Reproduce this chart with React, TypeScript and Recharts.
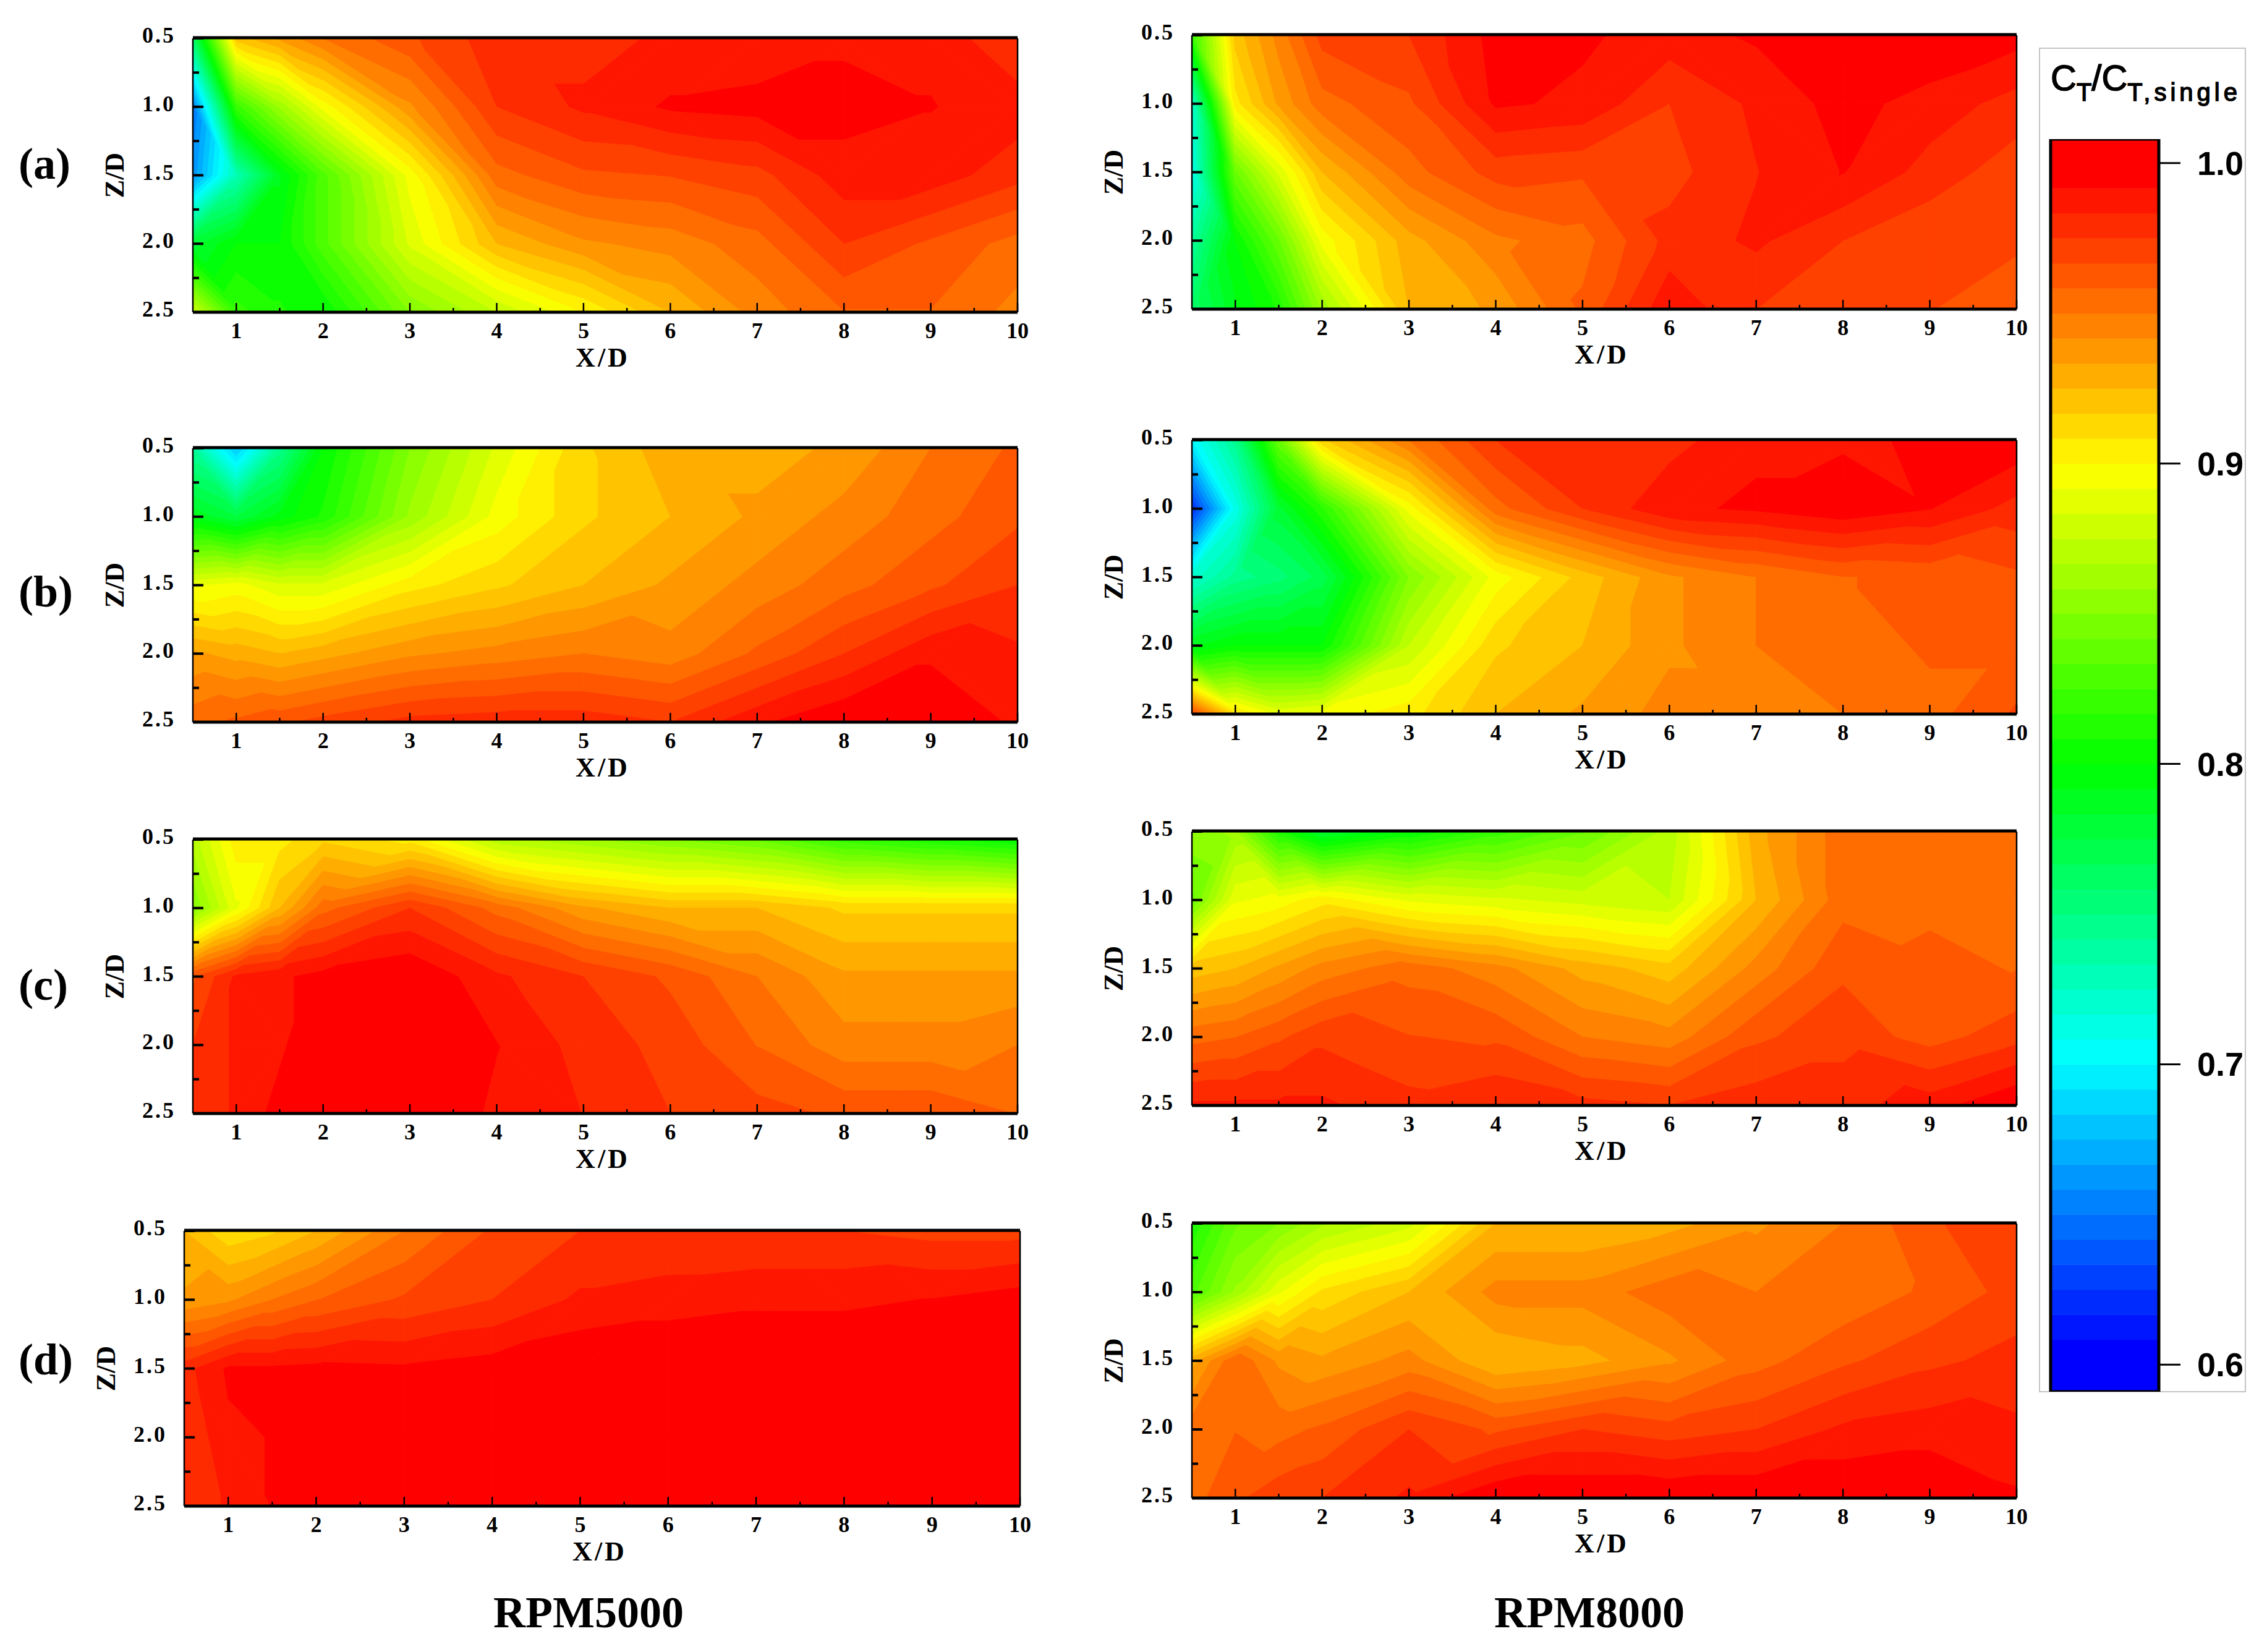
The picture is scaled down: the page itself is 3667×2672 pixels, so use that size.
/**
 * Contour panels of thrust ratio behind a rotor, one Recharts ScatterChart per panel.
 * Every cell of the measurement grid is placed by the chart's scales and
 * filled with flat bands, split along a triangle as the original plot does.
 */

import React from 'react';
import { ScatterChart, Scatter, XAxis, YAxis } from 'recharts';

// Measurement grid
const X_STATIONS = [0.5, 1, 1.5, 2, 3, 4, 5, 6, 7, 8, 9, 10];
const Z_STATIONS = [0.5, 1, 1.5, 2, 2.5];

// Tick positions
const X_TICKS = [1, 1.5, 2, 2.5, 3, 3.5, 4, 4.5, 5, 5.5, 6, 6.5, 7, 7.5, 8, 8.5, 9, 9.5, 10];
const Z_TICKS = [0.5, 0.75, 1, 1.25, 1.5, 1.75, 2, 2.25, 2.5];
const BAR_TICKS = [0.6, 0.7, 0.8, 0.9, 1.0];

// CT/CT,single, one row per Z station
const A_5000 = [
    [0.76, 0.92, 0.935, 0.95, 0.965, 0.98, 0.98, 0.985, 0.985, 0.99, 0.99, 0.975],
    [0.65, 0.82, 0.86, 0.895, 0.94, 0.975, 0.985, 0.993, 0.995, 0.995, 0.992, 0.988],
    [0.66, 0.73, 0.79, 0.83, 0.895, 0.955, 0.965, 0.967, 0.972, 0.988, 0.988, 0.978],
    [0.78, 0.8, 0.8, 0.83, 0.885, 0.925, 0.94, 0.945, 0.955, 0.975, 0.965, 0.955],
    [0.88, 0.82, 0.81, 0.8, 0.85, 0.875, 0.9, 0.925, 0.945, 0.958, 0.958, 0.947],
];
const A_8000 = [
    [0.82, 0.92, 0.945, 0.97, 0.975, 0.995, 0.993, 0.988, 0.993, 0.998, 1.0, 0.995],
    [0.72, 0.905, 0.935, 0.955, 0.965, 0.993, 0.99, 0.975, 0.985, 0.995, 0.988, 0.98],
    [0.71, 0.84, 0.885, 0.925, 0.955, 0.97, 0.968, 0.972, 0.983, 0.992, 0.98, 0.97],
    [0.74, 0.8, 0.84, 0.895, 0.93, 0.948, 0.955, 0.978, 0.985, 0.975, 0.968, 0.968],
    [0.76, 0.79, 0.81, 0.86, 0.925, 0.935, 0.96, 0.99, 0.975, 0.967, 0.967, 0.962],
];
const B_5000 = [
    [0.74, 0.68, 0.745, 0.8, 0.85, 0.885, 0.915, 0.93, 0.93, 0.935, 0.95, 0.96],
    [0.79, 0.775, 0.795, 0.81, 0.86, 0.895, 0.915, 0.925, 0.935, 0.945, 0.955, 0.965],
    [0.89, 0.895, 0.885, 0.885, 0.905, 0.915, 0.925, 0.935, 0.945, 0.955, 0.965, 0.975],
    [0.935, 0.93, 0.925, 0.93, 0.94, 0.945, 0.95, 0.945, 0.96, 0.975, 0.99, 0.985],
    [0.955, 0.96, 0.965, 0.97, 0.978, 0.98, 0.98, 0.975, 0.99, 1.0, 1.0, 0.99],
];
const B_8000 = [
    [0.7, 0.745, 0.84, 0.915, 0.95, 0.975, 0.98, 0.98, 0.99, 0.99, 0.993, 0.998],
    [0.62, 0.71, 0.78, 0.815, 0.895, 0.955, 0.975, 0.99, 0.993, 0.998, 0.992, 0.98],
    [0.72, 0.745, 0.755, 0.77, 0.85, 0.895, 0.92, 0.94, 0.95, 0.958, 0.96, 0.965],
    [0.79, 0.8, 0.8, 0.8, 0.875, 0.915, 0.925, 0.94, 0.95, 0.953, 0.96, 0.96],
    [0.97, 0.91, 0.89, 0.895, 0.905, 0.925, 0.935, 0.945, 0.945, 0.95, 0.955, 0.968],
];
const C_5000 = [
    [0.87, 0.905, 0.905, 0.915, 0.905, 0.87, 0.86, 0.85, 0.84, 0.82, 0.81, 0.8],
    [0.85, 0.89, 0.925, 0.955, 0.975, 0.955, 0.935, 0.925, 0.925, 0.915, 0.915, 0.915],
    [0.965, 0.985, 0.99, 0.995, 1.0, 0.985, 0.975, 0.965, 0.95, 0.935, 0.935, 0.935],
    [0.975, 0.985, 0.99, 1.0, 1.0, 0.992, 0.98, 0.972, 0.958, 0.945, 0.945, 0.95],
    [0.975, 0.985, 0.995, 1.0, 1.0, 0.99, 0.983, 0.975, 0.97, 0.965, 0.965, 0.958],
];
const C_8000 = [
    [0.855, 0.86, 0.81, 0.78, 0.8, 0.82, 0.84, 0.87, 0.93, 0.955, 0.957, 0.957],
    [0.84, 0.89, 0.895, 0.905, 0.89, 0.885, 0.88, 0.875, 0.925, 0.955, 0.957, 0.957],
    [0.92, 0.925, 0.935, 0.945, 0.955, 0.945, 0.93, 0.92, 0.945, 0.965, 0.96, 0.958],
    [0.955, 0.958, 0.965, 0.973, 0.967, 0.965, 0.95, 0.945, 0.965, 0.972, 0.963, 0.972],
    [0.985, 0.985, 0.985, 0.985, 0.978, 0.983, 0.978, 0.975, 0.98, 0.98, 0.988, 1.0],
];
const D_5000 = [
    [0.925, 0.91, 0.915, 0.925, 0.95, 0.968, 0.975, 0.975, 0.975, 0.975, 0.972, 0.972],
    [0.935, 0.94, 0.95, 0.958, 0.968, 0.975, 0.985, 0.988, 0.99, 0.99, 0.992, 0.996],
    [0.98, 0.993, 0.993, 0.994, 0.993, 0.996, 1.0, 1.0, 1.0, 1.0, 1.0, 1.0],
    [0.975, 0.99, 0.992, 0.996, 1.0, 1.0, 1.0, 1.0, 1.0, 1.0, 1.0, 1.0],
    [0.975, 0.985, 0.992, 1.0, 1.0, 1.0, 1.0, 1.0, 1.0, 1.0, 1.0, 1.0],
];
const D_8000 = [
    [0.81, 0.84, 0.85, 0.865, 0.88, 0.925, 0.925, 0.93, 0.94, 0.95, 0.965, 0.975],
    [0.83, 0.86, 0.89, 0.91, 0.925, 0.945, 0.945, 0.955, 0.95, 0.952, 0.96, 0.97],
    [0.93, 0.957, 0.94, 0.935, 0.945, 0.925, 0.93, 0.94, 0.955, 0.965, 0.973, 0.978],
    [0.955, 0.958, 0.955, 0.96, 0.975, 0.965, 0.975, 0.97, 0.975, 0.985, 0.988, 0.985],
    [0.955, 0.965, 0.972, 0.975, 0.985, 1.0, 1.0, 1.0, 1.0, 1.0, 1.0, 0.993],
];

// Panel placement on the page (plot rectangle, in pixels)
const PANELS = [
    { id: 'a5', values: A_5000, left: 312, top: 62, width: 1334, height: 443 },
    { id: 'a8', values: A_8000, left: 1928, top: 57, width: 1334, height: 443 },
    { id: 'b5', values: B_5000, left: 312, top: 725, width: 1334, height: 443 },
    { id: 'b8', values: B_8000, left: 1928, top: 712, width: 1334, height: 443 },
    { id: 'c5', values: C_5000, left: 312, top: 1358, width: 1334, height: 443 },
    { id: 'c8', values: C_8000, left: 1928, top: 1345, width: 1334, height: 443 },
    { id: 'd5', values: D_5000, left: 298, top: 1991, width: 1352, height: 445 },
    { id: 'd8', values: D_8000, left: 1928, top: 1979, width: 1334, height: 444 },
];

const ROW_LABELS = [
    { text: '(a)', top: 265 },
    { text: '(b)', top: 957 },
    { text: '(c)', top: 1593 },
    { text: '(d)', top: 2199 },
];

const COLUMN_TITLES = [
    { text: 'RPM5000', center: 952 },
    { text: 'RPM8000', center: 2571 },
];

const SERIF = '"Liberation Serif", serif';
const SANS = '"Liberation Sans", sans-serif';

const LEVELS_PER_UNIT = 120;
const BAND_COUNT = 48;
const LEVEL_BASE = 0.6;
const BAR_DOMAIN: [number, number] = [0.591, 1.008];
const BAR_WIDTH = 175;
const BAR_HEIGHT = 2026;

const AXIS_LEFT = 160;
const AXIS_TOP = 40;
const AXIS_RIGHT = 60;
const AXIS_BOTTOM = 130;

// Blue - cyan - green - yellow - red, in flat steps
const bandColor = (k: number) => {
    const t = (k / (BAND_COUNT - 1)) * 4;
    let r = 0;
    let g = 0;
    let b = 0;
    if (t < 1) {
        g = t * 255;
        b = 255;
    } else if (t < 2) {
        g = 255;
        b = (2 - t) * 255;
    } else if (t < 3) {
        r = (t - 2) * 255;
        g = 255;
    } else {
        r = 255;
        g = (4 - t) * 255;
    }
    return `rgb(${Math.round(r)},${Math.round(g)},${Math.round(b)})`;
};

const bandLow = (k: number) => LEVEL_BASE + k / LEVELS_PER_UNIT;

type Corner = [number, number, number]; // px, py, value

// Keep the part of a polygon on one side of a level
const clipPolygon = (poly: Corner[], level: number, keepAbove: boolean) => {
    const out: Corner[] = [];
    poly.forEach((p, i) => {
        const q = poly[(i + 1) % poly.length];
        const pIn = keepAbove ? p[2] >= level : p[2] <= level;
        const qIn = keepAbove ? q[2] >= level : q[2] <= level;
        if (pIn) out.push(p);
        if (pIn !== qIn) {
            const f = (level - p[2]) / (q[2] - p[2]);
            out.push([p[0] + (q[0] - p[0]) * f, p[1] + (q[1] - p[1]) * f, level]);
        }
    });
    return out;
};

const triangleBands = (tri: Corner[], key: string) => {
    const polys: React.ReactNode[] = [];
    for (let k = 0; k < BAND_COUNT; k++) {
        let poly = tri;
        if (k > 0) poly = clipPolygon(poly, bandLow(k), true);
        if (poly.length > 2 && k < BAND_COUNT - 1) poly = clipPolygon(poly, bandLow(k + 1), false);
        if (poly.length < 3) continue;
        const color = bandColor(k);
        polys.push(
            <polygon
                key={`${key}-${k}`}
                points={poly.map((p) => `${p[0]},${p[1]}`).join(' ')}
                fill={color}
                stroke={color}
                strokeWidth={1}
            />,
        );
    }
    return polys;
};

// One grid cell; the chart hands us the pixel position of its upper left node
const ContourCell = ({ cx, cy, payload, pxX, pxZ }: any) => {
    if (cx == null || cy == null) return null;
    const { x, z, nextX, nextZ, tl, tr, bl, br } = payload;
    const x2 = cx + (nextX - x) * pxX;
    const y2 = cy + (nextZ - z) * pxZ;
    const a: Corner = [cx, cy, tl];
    const b: Corner = [x2, cy, tr];
    const c: Corner = [x2, y2, br];
    const d: Corner = [cx, y2, bl];
    // split along the diagonal whose ends are closest in value
    const tris = Math.abs(tl - br) <= Math.abs(tr - bl) ? [[a, b, c], [a, c, d]] : [[a, b, d], [b, c, d]];
    return <g>{tris.map((t, i) => triangleBands(t, `t${i}`))}</g>;
};

const buildCells = (values: number[][]) => {
    const cells = [];
    for (let j = 0; j < Z_STATIONS.length - 1; j++) {
        for (let i = 0; i < X_STATIONS.length - 1; i++) {
            cells.push({
                x: X_STATIONS[i],
                z: Z_STATIONS[j],
                nextX: X_STATIONS[i + 1],
                nextZ: Z_STATIONS[j + 1],
                tl: values[j][i],
                tr: values[j][i + 1],
                bl: values[j + 1][i],
                br: values[j + 1][i + 1],
            });
        }
    }
    return cells;
};

const X_MARKS = X_TICKS.map((x) => ({ x, z: 2.5, axis: 'x' }));
const Z_MARKS = Z_TICKS.map((z) => ({ x: 0.5, z, axis: 'z' }));

// Tick marks point into the plot, so they go on top of the contours
const TickMark = ({ cx, cy, payload }: any) => {
    if (cx == null || cy == null) return null;
    if (payload.axis === 'x') {
        const whole = Number.isInteger(payload.x);
        return <line x1={cx} x2={cx} y1={cy} y2={cy - (whole ? 15 : 7)} stroke="#000" strokeWidth={2.5} />;
    }
    const major = (payload.z * 2) % 1 === 0;
    return <line x1={cx} x2={cx + (major ? 17 : 10)} y1={cy} y2={cy} stroke="#000" strokeWidth={4} />;
};

// Frame: heavy top and bottom, thin sides, anchored on the upper left corner
const PlotFrame = ({ cx, cy, width, height }: any) => {
    if (cx == null || cy == null) return null;
    return (
        <g stroke="#000">
            <line x1={cx} x2={cx} y1={cy} y2={cy + height} strokeWidth={2.5} />
            <line x1={cx + width} x2={cx + width} y1={cy} y2={cy + height} strokeWidth={2.5} />
            <line x1={cx} x2={cx + width} y1={cy - 1} y2={cy - 1} strokeWidth={5} />
            <line x1={cx} x2={cx + width} y1={cy + height} y2={cy + height} strokeWidth={5} />
        </g>
    );
};

const XTick = ({ x, y, payload }: any) =>
    Number.isInteger(payload.value) ? (
        <text x={x} y={y + 42} textAnchor="middle" fontFamily={SERIF} fontWeight="bold" fontSize={36} fill="#000">
            {payload.value}
        </text>
    ) : null;

const ZTick = ({ x, y, payload }: any) =>
    (payload.value * 2) % 1 === 0 ? (
        <text x={x - 28} y={y + 7} textAnchor="end" fontFamily={SERIF} fontWeight="bold" fontSize={36} letterSpacing={3} fill="#000">
            {payload.value.toFixed(1)}
        </text>
    ) : null;

const ContourPanel = ({ panel }: { panel: (typeof PANELS)[number] }) => {
    const { values, left, top, width, height } = panel;
    const pxX = width / 9.5;
    const pxZ = height / 2;
    return (
        <div style={{ position: 'absolute', left: left - AXIS_LEFT, top: top - AXIS_TOP }}>
            <ScatterChart
                width={width + AXIS_LEFT + AXIS_RIGHT}
                height={height + AXIS_TOP + AXIS_BOTTOM}
                margin={{ top: AXIS_TOP, right: AXIS_RIGHT, bottom: 0, left: 0 }}
            >
                <XAxis
                    type="number"
                    dataKey="x"
                    domain={[0.5, 10]}
                    ticks={X_TICKS}
                    interval={0}
                    height={AXIS_BOTTOM}
                    axisLine={false}
                    tickLine={false}
                    tickSize={0}
                    tickMargin={0}
                    tick={<XTick />}
                />
                <YAxis
                    type="number"
                    dataKey="z"
                    reversed
                    domain={[0.5, 2.5]}
                    ticks={Z_TICKS}
                    interval={0}
                    width={AXIS_LEFT}
                    axisLine={false}
                    tickLine={false}
                    tickSize={0}
                    tickMargin={0}
                    tick={<ZTick />}
                />
                <Scatter
                    data={buildCells(values)}
                    isAnimationActive={false}
                    shape={(props: any) => <ContourCell {...props} pxX={pxX} pxZ={pxZ} />}
                />
                <Scatter data={X_MARKS} isAnimationActive={false} shape={(props: any) => <TickMark {...props} />} />
                <Scatter data={Z_MARKS} isAnimationActive={false} shape={(props: any) => <TickMark {...props} />} />
                <Scatter
                    data={[{ x: 0.5, z: 0.5 }]}
                    isAnimationActive={false}
                    shape={(props: any) => <PlotFrame cx={props.cx} cy={props.cy} width={width} height={height} />}
                />
                <text
                    x={AXIS_LEFT + width / 2 - 4}
                    y={AXIS_TOP + height + 88}
                    textAnchor="middle"
                    fontFamily={SERIF}
                    fontWeight="bold"
                    fontSize={44}
                    letterSpacing={4}
                    fill="#000"
                >
                    X/D
                </text>
                <text
                    transform={`translate(${AXIS_LEFT - 112},${AXIS_TOP + height / 2}) rotate(-90)`}
                    textAnchor="middle"
                    fontFamily={SERIF}
                    fontWeight="bold"
                    fontSize={44}
                    fill="#000"
                >
                    Z/D
                </text>
            </ScatterChart>
        </div>
    );
};

const BarTick = ({ x, y, payload }: any) => (
    <text x={x + 25} y={y + 19} fontFamily={SANS} fontWeight="bold" fontSize={54} fill="#000">
        {payload.value.toFixed(1)}
    </text>
);

const BAR_BANDS = Array.from({ length: BAND_COUNT }, (_, k) => ({
    x: 0,
    y: k === BAND_COUNT - 1 ? BAR_DOMAIN[1] : bandLow(k + 1),
    low: k === 0 ? BAR_DOMAIN[0] : bandLow(k),
    k,
}));

const BarBand = ({ cx, cy, payload }: any) => {
    if (cx == null || cy == null) return null;
    const pxPerUnit = BAR_HEIGHT / (BAR_DOMAIN[1] - BAR_DOMAIN[0]);
    return (
        <rect
            x={cx}
            y={cy}
            width={BAR_WIDTH}
            height={(payload.y - payload.low) * pxPerUnit + 0.5}
            fill={bandColor(payload.k)}
        />
    );
};

const BarFrame = ({ cx, cy }: any) =>
    cx == null || cy == null ? null : (
        <rect x={cx} y={cy} width={BAR_WIDTH} height={BAR_HEIGHT} fill="none" stroke="#000" strokeWidth={5} />
    );

const ColorBar = () => (
    <div style={{ position: 'absolute', left: 3313, top: 221 }}>
        <ScatterChart
            width={BAR_WIDTH + 179}
            height={BAR_HEIGHT + 8}
            margin={{ top: 4, right: 0, bottom: 4, left: 4 }}
        >
            <XAxis type="number" dataKey="x" domain={[0, 1]} hide />
            <YAxis
                type="number"
                dataKey="y"
                orientation="right"
                domain={BAR_DOMAIN}
                ticks={BAR_TICKS}
                interval={0}
                width={175}
                axisLine={false}
                tickSize={35}
                tickLine={{ stroke: '#000', strokeWidth: 3 }}
                tick={<BarTick />}
                allowDataOverflow
            />
            <Scatter data={BAR_BANDS} isAnimationActive={false} shape={(props: any) => <BarBand {...props} />} />
            <Scatter
                data={[{ x: 0, y: BAR_DOMAIN[1] }]}
                isAnimationActive={false}
                shape={(props: any) => <BarFrame cx={props.cx} cy={props.cy} />}
            />
        </ScatterChart>
    </div>
);

export default function App() {
    return (
        <div style={{ position: 'absolute', left: 0, top: 0, width: 3667, height: 2672, background: '#fff', overflow: 'hidden' }}>
            <div
                style={{
                    position: 'absolute',
                    left: 3298,
                    top: 77,
                    width: 335,
                    height: 2175,
                    border: '2px solid #c4c4c4',
                    boxSizing: 'border-box',
                }}
            />
            <svg style={{ position: 'absolute', left: 3298, top: 77 }} width={369} height={120}>
                <text x={19} y={69} fontFamily={SANS} fontSize={58} fill="#000" stroke="#000" strokeWidth={1.5}>
                    C
                    <tspan fontSize={40} dy={17}>T</tspan>
                    <tspan fontSize={58} dy={-17}>/C</tspan>
                    <tspan fontSize={40} dy={17} letterSpacing={6}>T,single</tspan>
                </text>
            </svg>
            {PANELS.map((panel) => (
                <ContourPanel key={panel.id} panel={panel} />
            ))}
            <ColorBar />
            {ROW_LABELS.map((row) => (
                <div
                    key={row.text}
                    style={{
                        position: 'absolute',
                        left: 30,
                        top: row.top - 45,
                        fontFamily: SERIF,
                        fontWeight: 'bold',
                        fontSize: 72,
                        lineHeight: '90px',
                    }}
                >
                    {row.text}
                </div>
            ))}
            {COLUMN_TITLES.map((title) => (
                <div
                    key={title.text}
                    style={{
                        position: 'absolute',
                        left: title.center - 300,
                        width: 600,
                        top: 2563,
                        textAlign: 'center',
                        fontFamily: SERIF,
                        fontWeight: 'bold',
                        fontSize: 72,
                        lineHeight: '90px',
                    }}
                >
                    {title.text}
                </div>
            ))}
        </div>
    );
}
